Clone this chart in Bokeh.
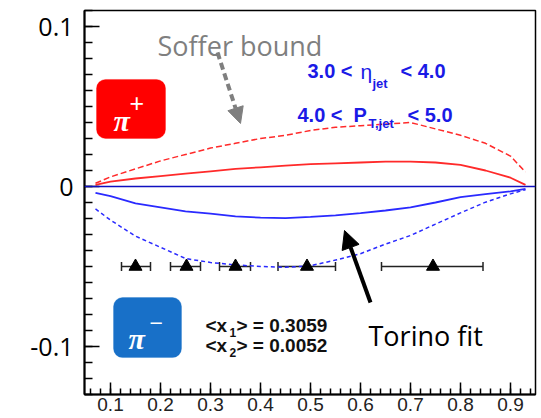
from bokeh.plotting import figure
from bokeh.models import (Range1d, FixedTicker, Label, Arrow, NormalHead, Span,
                          Whisker, ColumnDataSource, BoxAnnotation, TeeHead)
from bokeh.embed import file_html
from bokeh.resources import INLINE

# ---------------- data ----------------
x_grid = [0.07, 0.10, 0.15, 0.20, 0.25, 0.30, 0.35, 0.40, 0.45, 0.50,
          0.55, 0.60, 0.65, 0.70, 0.75, 0.80, 0.85, 0.90, 0.93]
soffer_pip = [0.002, 0.006, 0.011, 0.016, 0.020, 0.024, 0.027, 0.030, 0.032, 0.035,
              0.037, 0.038, 0.039, 0.040, 0.036, 0.032, 0.027, 0.019, 0.009]
torino_pip = [0.001, 0.003, 0.005, 0.0065, 0.008, 0.0095, 0.011, 0.012, 0.013, 0.014,
              0.0145, 0.015, 0.0155, 0.0155, 0.015, 0.0135, 0.010, 0.0055, 0.001]
torino_pim = [-0.004, -0.006, -0.0105, -0.013, -0.0155, -0.017, -0.0187, -0.0195, -0.0198, -0.019,
              -0.018, -0.0167, -0.015, -0.013, -0.010, -0.0067, -0.0048, -0.003, -0.0015]
soffer_pim = [-0.014, -0.021, -0.031, -0.038, -0.045, -0.0475, -0.049, -0.050, -0.0505, -0.0495,
              -0.046, -0.042, -0.036, -0.0306, -0.0235, -0.0165, -0.0098, -0.0046, -0.002]

pt_x = [0.150, 0.252, 0.350, 0.493, 0.745]
pt_y = [-0.05, -0.05, -0.05, -0.05, -0.05]
pt_xlo = [0.122, 0.220, 0.318, 0.435, 0.642]
pt_xhi = [0.180, 0.280, 0.380, 0.550, 0.845]

x_ticks = [0.1, 0.2, 0.3, 0.4, 0.5, 0.6, 0.7, 0.8, 0.9]
x_minor = [round(0.06 + 0.02 * i, 2) for i in range(45)]
y_ticks = [-0.1, 0.0, 0.1]
y_tick_labels = {-0.1: "-0.1", 0: "0", 0.1: "0.1"}
y_minor = [round(-0.13 + 0.01 * i, 2) for i in range(25)]

# ---------------- figure ----------------
p = figure(width=541, height=418, x_range=Range1d(0.048, 0.95), y_range=Range1d(-0.13, 0.11),
           output_backend="svg", toolbar_location=None,
           min_border_left=84, min_border_right=6, min_border_top=10, min_border_bottom=24)
p.grid.visible = False
p.outline_line_color = "black"
p.outline_line_width = 1.5
p.background_fill_color = "white"
p.border_fill_color = "white"

xa = p.xaxis[0]
xa.ticker = FixedTicker(ticks=x_ticks, minor_ticks=x_minor)
xa.major_tick_in = 12
xa.major_tick_out = 0
xa.minor_tick_in = 6
xa.minor_tick_out = 0
xa.axis_line_width = 2
xa.major_tick_line_width = 1.5
xa.minor_tick_line_width = 1.5
xa.major_label_text_font = "Liberation Sans"
xa.major_label_text_font_size = "19px"
xa.major_label_text_color = "#222222"
xa.major_label_standoff = 3

ya = p.yaxis[0]
ya.ticker = FixedTicker(ticks=y_ticks, minor_ticks=y_minor)
ya.major_label_overrides = y_tick_labels
ya.major_tick_in = 15
ya.major_tick_out = 0
ya.minor_tick_in = 8
ya.minor_tick_out = 0
ya.axis_line_width = 2
ya.major_tick_line_width = 1.5
ya.minor_tick_line_width = 1.5
ya.major_label_text_font = "Open Sans"
ya.major_label_text_font_size = "25px"
ya.major_label_text_color = "black"
ya.major_label_standoff = 11

# zero line
p.add_layout(Span(location=0, dimension="width", line_color="#1010c0", line_width=1.5))

# curves
p.line(x_grid, soffer_pip, line_color="#ff2a2a", line_width=1.5, line_dash="6 3")
p.line(x_grid, torino_pip, line_color="#ff2a2a", line_width=1.8)
p.line(x_grid, torino_pim, line_color="#2a2aff", line_width=1.8)
p.line(x_grid, soffer_pim, line_color="#2a2aff", line_width=1.5, line_dash="4 3")

# data points
src = ColumnDataSource(dict(x=pt_x, y=pt_y, lo=pt_xlo, hi=pt_xhi))
p.add_layout(Whisker(source=src, base="y", lower="lo", upper="hi", dimension="width",
                     line_color="#222222", line_width=1.5,
                     lower_head=TeeHead(size=9, line_color="#222222", line_width=1.5),
                     upper_head=TeeHead(size=9, line_color="#222222", line_width=1.5)))
p.scatter("x", "y", source=src, marker="triangle", size=13, color="black")

# pi boxes
p.add_layout(BoxAnnotation(left=0.072, right=0.210, bottom=0.030, top=0.0669,
                           fill_color="#ff0000", fill_alpha=1.0, line_color="#ff0000",
                           border_radius=9))
p.add_layout(BoxAnnotation(left=0.106, right=0.242, bottom=-0.1069, top=-0.0694,
                           fill_color="#1870c8", fill_alpha=1.0, line_color="#1870c8",
                           border_radius=9))

def lab(x, y, text, font="Open Sans", size="27px", color="black", style="normal",
        align="left", baseline="alphabetic"):
    p.add_layout(Label(x=x, y=y, text=text, text_font=font, text_font_size=size,
                       text_color=color, text_font_style=style, text_align=align,
                       text_baseline=baseline))

lab(0.106, 0.0412, "π", font="Liberation Serif", size="30px", color="white", style="bold italic")
lab(0.138, 0.0525, "+", font="Liberation Sans", size="25px", color="white", baseline="middle")
lab(0.136, -0.095, "π", font="Liberation Serif", size="30px", color="white", style="bold italic")
lab(0.178, -0.085, "−", font="Liberation Sans", size="23px", color="white", baseline="middle")

# annotations
lab(0.194, 0.0881, "Soffer bound", color="#7f7f7f")
lab(0.616, -0.0931, "Torino fit", color="black")

p.add_layout(Arrow(end=NormalHead(size=16, fill_color="#7f7f7f", line_color="#7f7f7f"),
                   x_start=0.314, y_start=0.0838, x_end=0.360, y_end=0.0394,
                   line_color="#7f7f7f", line_width=4, line_dash="7 4"))
p.add_layout(Arrow(end=NormalHead(size=18, fill_color="black", line_color="black"),
                   x_start=0.620, y_start=-0.0725, x_end=0.568, y_end=-0.0275,
                   line_color="black", line_width=4))

blue = "#1a1ae6"
lab(0.494, 0.0719, "3.0 <", font="Liberation Sans", size="20px", color=blue, style="bold")
lab(0.600, 0.0719, "η", font="Liberation Sans", size="21px", color=blue)
lab(0.624, 0.0644, "jet", font="Liberation Sans", size="13px", color=blue, style="bold")
lab(0.680, 0.0719, "<  4.0", font="Liberation Sans", size="20px", color=blue, style="bold")

lab(0.474, 0.0450, "4.0 <", font="Liberation Sans", size="20px", color=blue, style="bold")
lab(0.586, 0.0450, "P", font="Liberation Sans", size="20px", color=blue, style="bold")
lab(0.616, 0.0394, "T,jet", font="Liberation Sans", size="13px", color=blue, style="bold")
lab(0.694, 0.0450, "< 5.0", font="Liberation Sans", size="20px", color=blue, style="bold")

dark = "#111111"
lab(0.290, -0.0869, "<x", font="Liberation Sans", size="19px", color=dark, style="bold")
lab(0.338, -0.0912, "1", font="Liberation Sans", size="12px", color=dark, style="bold")
lab(0.352, -0.0869, "> = 0.3059", font="Liberation Sans", size="19px", color=dark, style="bold")
lab(0.290, -0.0994, "<x", font="Liberation Sans", size="19px", color=dark, style="bold")
lab(0.338, -0.1037, "2", font="Liberation Sans", size="12px", color=dark, style="bold")
lab(0.352, -0.0994, "> = 0.0052", font="Liberation Sans", size="19px", color=dark, style="bold")

open("out.html", "w").write(file_html(p, INLINE))
